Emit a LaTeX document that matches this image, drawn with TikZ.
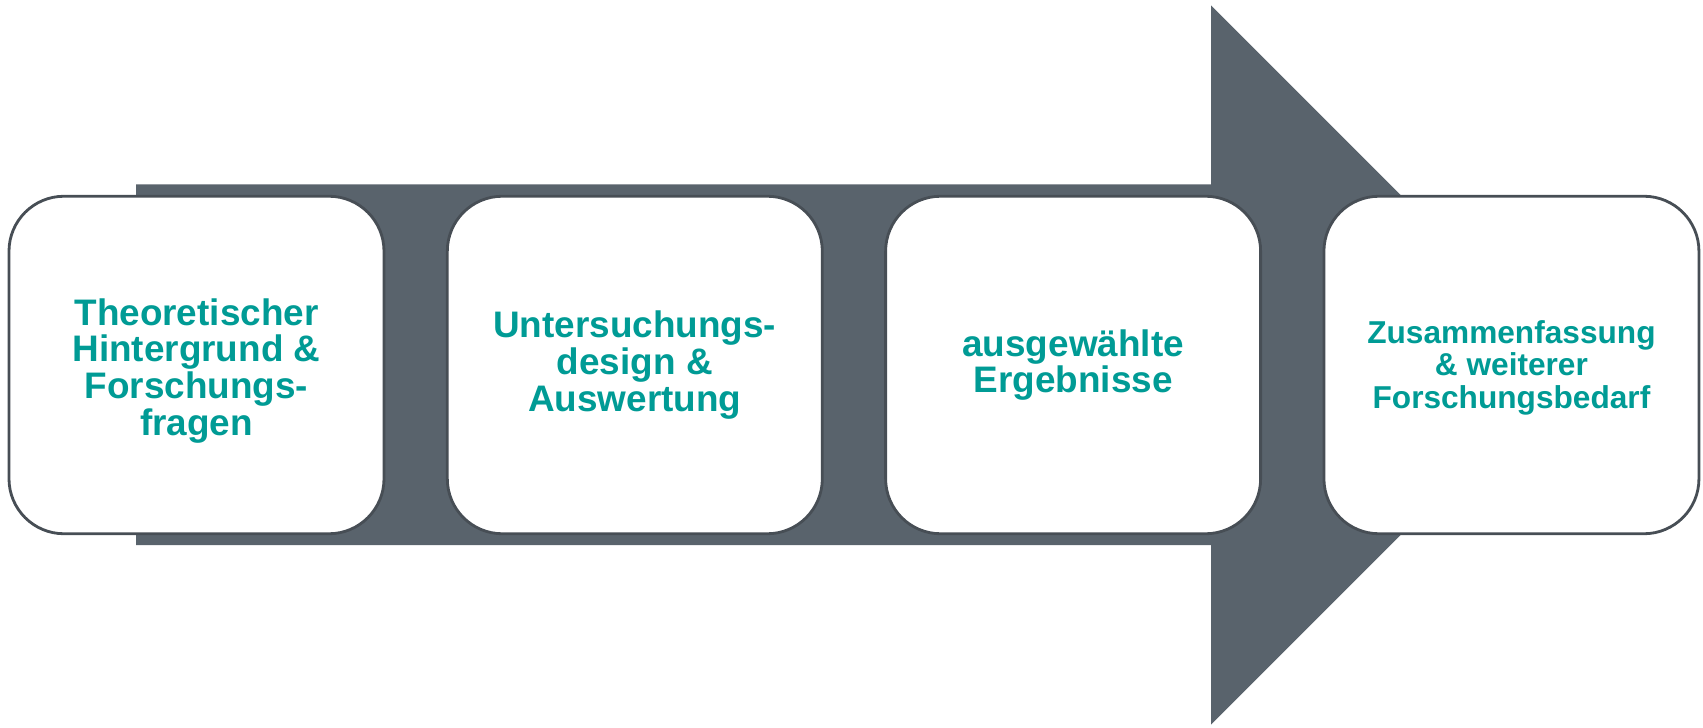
\documentclass[tikz,border=0pt]{standalone}
\usepackage{fontspec}
\setmainfont{Liberation Sans}
\usetikzlibrary{positioning}
\definecolor{slate}{HTML}{59636C}
\definecolor{rim}{HTML}{474E55}
\definecolor{tealtext}{HTML}{009B95}
\tikzset{stagebox/.style={draw=rim,fill=white,line width=1.6pt,rounded corners=1.1cm,align=center,
 font=\bfseries\fontsize{21}{21}\selectfont,text=tealtext,minimum width=7.5cm,minimum height=6.75cm,inner sep=0pt},
 stagearrow/.style={fill=slate,draw=none}}

\begin{document}
\begin{tikzpicture}[node distance=5mm and 1.21cm]
\useasboundingbox (0,0) rectangle (34.06,14.54);
% big arrow behind the boxes
\fill[stagearrow] (2.72,10.85)--(24.22,10.85)--(24.22,14.43)--(31.41,7.24)--(24.22,0.05)--(24.22,3.64)--(2.72,3.64)--cycle;
\node[stagebox] (theory) at (3.93,7.24) {\rule{0pt}{22pt}Theoretischer\\Hintergrund \&\\Forschungs-\\fragen};
\node[stagebox,right=of theory] (design) {Untersuchungs-\\design \&\\Auswertung};
\node[stagebox,right=of design] (results) {ausgewählte\\Ergebnisse};
\node[stagebox,right=of results,font=\bfseries\fontsize{18}{18.5}\selectfont] (summary) {\rule{0pt}{16pt}Zusammenfassung\\\& weiterer\\Forschungsbedarf};
\end{tikzpicture}
\end{document}
